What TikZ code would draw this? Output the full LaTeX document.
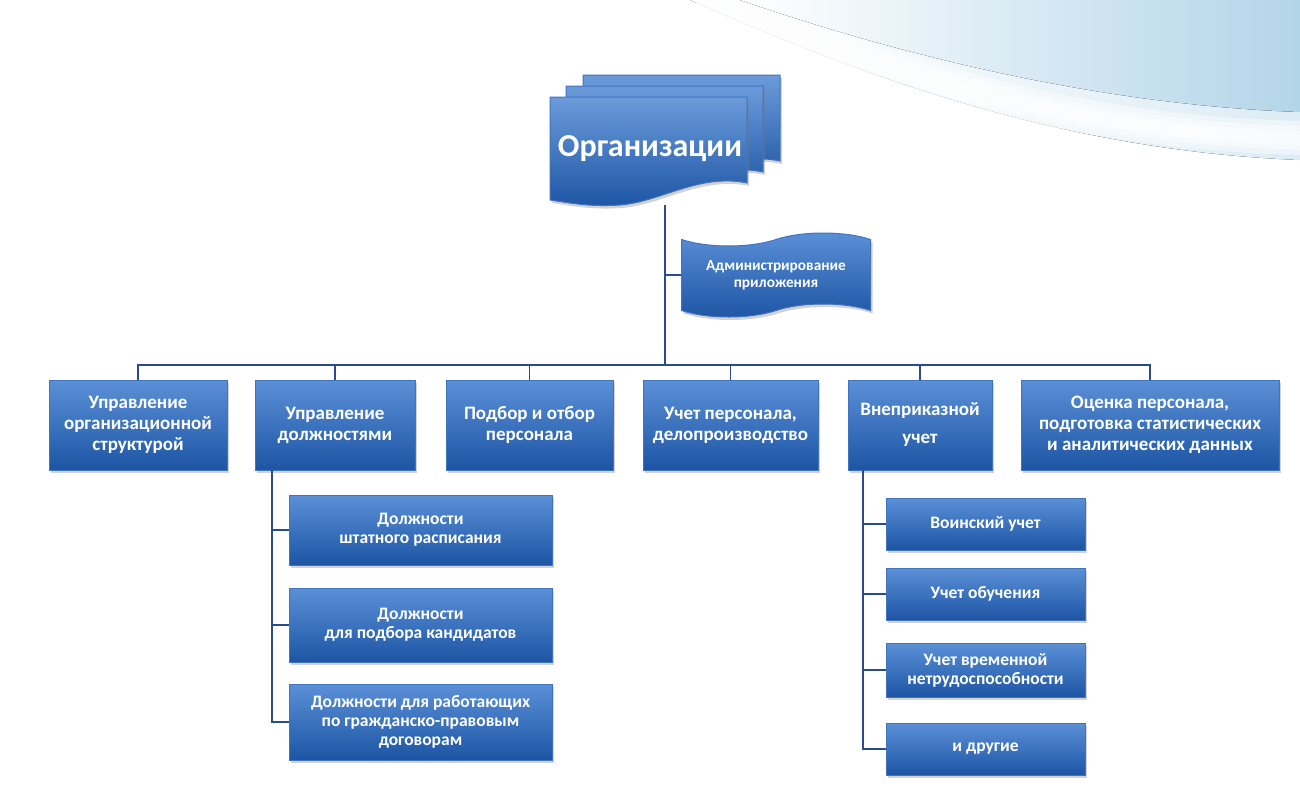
\documentclass[tikz,border=0pt]{standalone}
\usepackage{fontspec}
\setmainfont{Carlito}
\usetikzlibrary{shapes.symbols,shadows}

\definecolor{boxtop}{HTML}{5B90D7}
\definecolor{boxbot}{HTML}{1D55A4}
\definecolor{boxline}{HTML}{3F74BE}
\definecolor{linkcol}{HTML}{2B4C8C}
\definecolor{bgblue}{HTML}{B3D5E8}

\begin{document}
\begin{tikzpicture}
  [
    x=1pt, y=-1pt,
    box/.style =
      {draw=boxline, line width=1pt, top color=boxtop, bottom color=boxbot,
       text=white, align=center, inner sep=0pt,
       font=\bfseries\fontsize{19}{21}\selectfont,
       drop shadow={shadow xshift=2pt, shadow yshift=-3pt, opacity=0.35}},
    subbox/.style =
      {box, font=\bfseries\fontsize{17.5}{19}\selectfont},
    doc/.style =
      {draw=boxline, line width=1pt, top color=boxtop!90, bottom color=boxbot,
       drop shadow={shadow xshift=2pt, shadow yshift=-3pt, opacity=0.35}},
    link/.style =
      {draw=linkcol, line width=1.3pt}
  ]
  \useasboundingbox (0,0) rectangle (1300,803);
  % background
  \begin{scope}
    \clip (0,0) rectangle (1300,803);
    \fill [white] (0,0) rectangle (1300,803);
    \fill [left color=white, right color=bgblue!45]
      (690,0) .. controls (850,70) and (1050,150) .. (1300,160) -- (1300,0) -- cycle;
    \foreach \w in {34,24,14}
      \draw [white, line width=\w pt, opacity=0.45]
        (700,-5) .. controls (860,62) and (1060,135) .. (1310,138);
    \fill [left color=white, right color=bgblue]
      (740,0) .. controls (900,55) and (1100,105) .. (1300,112) -- (1300,0) -- cycle;
  \end{scope}

  % title documents
  \foreach \dx/\dy in {33/22, 16/11, 0/0}
    \draw [doc, shift={(550+\dx,97-\dy)}]
      (0,0) -- (197,0) -- (197,86)
      .. controls (150,76) and (110,105) .. (70,108)
      .. controls (40,110) and (20,106) .. (0,103) -- cycle;
  \node [text=white, font=\bfseries\fontsize{32}{38}\selectfont] at (650,149) (orgtxt) {Организации};
  \coordinate (org) at (665,205);
  \coordinate (bus) at (665,365);

  \node [box, shape=tape, tape bend top=in and out, tape bend bottom=in and out,
         tape bend height=13pt, minimum width=189pt, minimum height=84pt,
         font=\bfseries\fontsize{15.3}{17}\selectfont] at (776,275) (adm)
        {Администрирование\\приложения};

  % first level
  \node [box, minimum width=178pt, minimum height=90pt] at (138,425)   (o1) {Управление\\организационной\\структурой};
  \node [box, minimum width=160pt, minimum height=90pt] at (335,425)   (o2) {Управление\\должностями};
  \node [box, minimum width=167pt, minimum height=90pt] at (529.5,425) (o3) {Подбор и отбор\\персонала};
  \node [box, minimum width=175pt, minimum height=90pt] at (730.5,425) (o4) {Учет персонала,\\делопроизводство};
  \node [box, minimum width=144pt, minimum height=90pt] at (920,425)   (o5) {Внеприказной\\[7pt]учет};
  \node [box, minimum width=258pt, minimum height=90pt] at (1150,425)  (o6) {Оценка персонала,\\подготовка статистических\\и аналитических данных};

  % positions
  \node [subbox, minimum width=263pt, minimum height=70pt] at (420.5,530) (p1) {Должности\\штатного расписания};
  \node [subbox, minimum width=263pt, minimum height=74pt] at (420.5,625) (p2) {Должности\\для подбора кандидатов};
  \node [subbox, minimum width=263pt, minimum height=76pt] at (420.5,722) (p3) {Должности для работающих\\по гражданско-правовым\\договорам};

  % off-order records
  \node [subbox, minimum width=199pt, minimum height=52pt] at (985.5,524) (r1) {Воинский учет};
  \node [subbox, minimum width=199pt, minimum height=52pt] at (985.5,594) (r2) {Учет обучения};
  \node [subbox, minimum width=199pt, minimum height=54pt] at (985.5,670) (r3) {Учет временной\\нетрудоспособности};
  \node [subbox, minimum width=199pt, minimum height=52pt] at (985.5,749) (r4) {и другие};

  % connectors
  \draw [link] (org) -- (bus);
  \draw [link] (adm.west) -- (adm.west -| org);
  \draw [link] (o1.north) |- (bus) -| (o6.north);
  \foreach \n in {o2,o3,o4,o5}
    \draw [link] (\n.north) -- (\n.north |- bus);

  \coordinate (pstem) at (272,470);
  \draw [link] (pstem) |- (p3.west);
  \foreach \n in {p1,p2}
    \draw [link] (\n.west) -- (\n.west -| pstem);

  \coordinate (rstem) at (863,470);
  \draw [link] (rstem) |- (r4.west);
  \foreach \n in {r1,r2,r3}
    \draw [link] (\n.west) -- (\n.west -| rstem);
\end{tikzpicture}
\end{document}
